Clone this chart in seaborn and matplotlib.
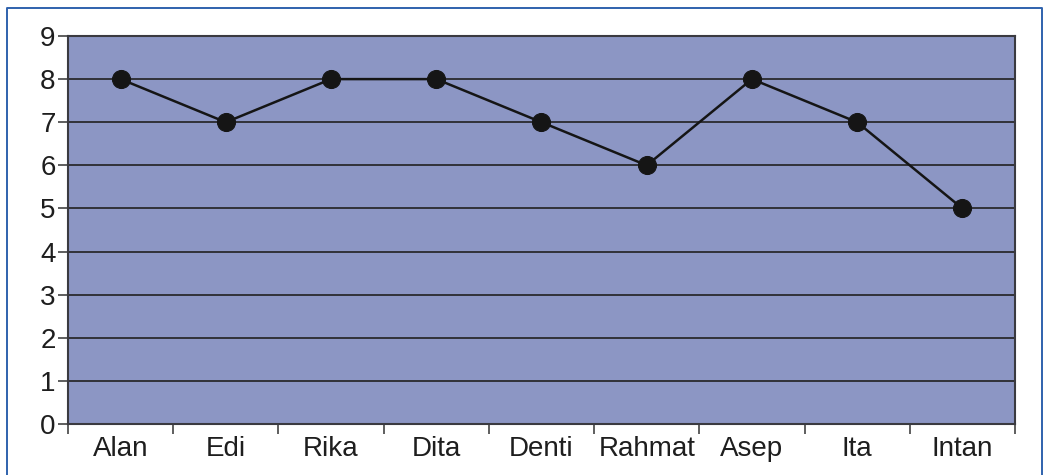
import matplotlib
matplotlib.use("Agg")
import matplotlib.pyplot as plt
from matplotlib.lines import Line2D
import seaborn as sns
import pandas as pd

names = ["Alan", "Edi", "Rika", "Dita", "Denti", "Rahmat", "Asep", "Ita", "Intan"]
scores = [8, 7, 8, 8, 7, 6, 8, 7, 5]
y_ticks = [0, 1, 2, 3, 4, 5, 6, 7, 8, 9]

sns.set_style("white")
plt.rcParams["font.family"] = ["Liberation Sans", "DejaVu Sans"]

df = pd.DataFrame({"pos": range(len(names)), "nilai": scores})

fig = plt.figure(figsize=(10.49, 4.75), dpi=100)
ax = fig.add_axes([68 / 1049, 1 - 424 / 475, (1015 - 68) / 1049, (424 - 36) / 475])
ax.set_facecolor("#8c96c4")

# horizontal gridlines at each unit
for v in y_ticks:
    ax.axhline(v, color="#2a2a2e", lw=1.3, zorder=1)

sns.lineplot(data=df, x="pos", y="nilai", ax=ax, color="#151515", lw=1.8,
             marker="o", markersize=13, markeredgecolor="#151515",
             markerfacecolor="#151515", zorder=3)

ax.set_xlim(-0.5, len(names) - 0.5)
ax.set_ylim(0, 9)
ax.set_yticks(y_ticks)
ax.set_yticklabels([str(v) for v in y_ticks], fontsize=20, color="#1e1e1e")

# category labels sit between boundary ticks
ax.set_xticks([i - 0.5 for i in range(len(names) + 1)])
ax.set_xticklabels([])
ax.set_xticks(range(len(names)), minor=True)
ax.set_xticklabels(names, minor=True, fontsize=20, color="#1e1e1e")
ax.tick_params(axis="x", which="major", bottom=True, length=7, width=1.1,
               color="#333333", direction="out")
ax.tick_params(axis="x", which="minor", bottom=True, length=0, pad=9)
ax.tick_params(axis="y", left=True, length=7, width=1.1, color="#333333",
               direction="out", pad=2)

for s in ax.spines.values():
    s.set_color("#3a3a40")
    s.set_linewidth(1.5)

ax.set_xlabel("")
ax.set_ylabel("")

# outer frame around the chart, open at the bottom
frame_col = "#2f62ad"
W, H = 1049, 475
xs = [7 / W, 7 / W, 1042 / W, 1042 / W]
ys = [0, 1 - 8 / H, 1 - 8 / H, 0]
fig.add_artist(Line2D(xs, ys, transform=fig.transFigure, color=frame_col, lw=1.4))

fig.savefig("out.png", dpi=100)
